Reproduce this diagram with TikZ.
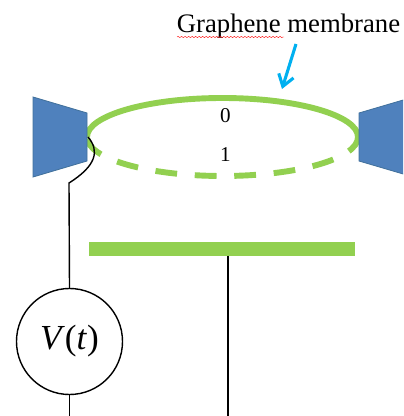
\documentclass[tikz,border=0pt]{standalone}
\usepackage{fontspec}
\setmainfont{Liberation Serif}
\usetikzlibrary{arrows.meta,decorations.pathmorphing}
\definecolor{memgreen}{HTML}{92D050}
\definecolor{padblue}{HTML}{4F81BD}
\definecolor{padedge}{HTML}{41719C}
\definecolor{arrowblue}{HTML}{00B0F0}
\tikzset{
    membrane/.style={memgreen,line width=4.2pt},
    pad/.style={fill=padblue,draw=padedge,line width=.6pt},
    wire/.style={black,line width=1pt},
}
\begin{document}
\begin{tikzpicture}[x=.025cm,y=.025cm]
        \useasboundingbox (0,0) rectangle (403,416);
        \clip (0,0) rectangle (403,416);
        % membrane, up and down positions
        \draw[membrane] (87,279) arc (180:0:135.5 and 39);
        \draw[membrane,dash pattern=on 15.5pt off 12.6pt,dash phase=27.1pt] (87,279) arc (180:360:135.5 and 39);
        % contacts
        \draw[pad] (33,319)--(87,303)--(87,255)--(33,239)--cycle;
        \draw[pad] (410,318)--(359,303)--(359,255)--(410,240)--cycle;
        % gate and source
        \node[fill=memgreen,minimum width=6.65cm,minimum height=.35cm,inner sep=0pt,draw=none] (gate) at (222,167) {};
        \node[draw,circle,line width=1pt,minimum size=2.65cm,inner sep=0pt] (source) at (69.5,74.5) {\fontsize{25}{25}\selectfont\textit{V}(\textit{t})};
        \coordinate (contact) at (88,279);
        \coordinate (bend) at (69,233);
        \coordinate (srcend) at (69.5,0);
        \coordinate (gatetop) at (228,160);
        \coordinate (gateend) at (228,0);
        \draw[wire] (contact) .. controls (100,265) and (96,250) .. (bend) -- (source.north);
        \draw[wire] (source.south)--(srcend);
        \draw[wire] (gatetop)--(gateend);
        % labels
        \node (title) at (288.5,390) {\fontsize{19}{19}\selectfont Graphene membrane};
        \node (up) at (225.5,300) {\fontsize{15}{15}\selectfont 0};
        \node (down) at (225.5,261) {\fontsize{15}{15}\selectfont 1};
        \coordinate (squigstart) at (177,379);
        \coordinate (squigend) at (284,379);
        \draw[red,line width=.3pt,decorate,decoration={snake,amplitude=.4pt,segment length=2.5pt}] (squigstart)--(squigend);
        \coordinate (tail) at (296,372);
        \coordinate (tip) at (282,327);
        \draw[arrowblue,line width=2.2pt,-{Straight Barb[length=8pt,width=11pt]}] (tail)--(tip);
\end{tikzpicture}
\end{document}
